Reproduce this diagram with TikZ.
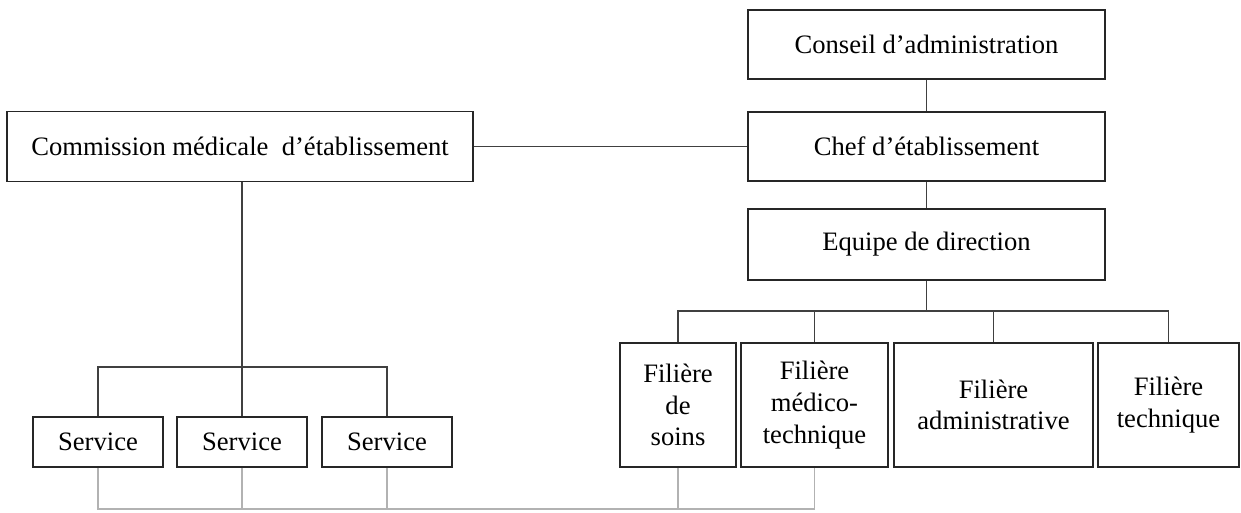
\documentclass[tikz,border=0pt]{standalone}
\usepackage{fontspec}
\setmainfont{Liberation Serif}
\usepackage{tikz}

\begin{document}
\begin{tikzpicture}[x=0.5pt,y=-0.5pt,
	box/.style={shape=rectangle,draw=black!85,line width=0.8pt,inner sep=0pt,align=center,font=\fontsize{13.3}{15.8}\selectfont},
	link/.style={draw=black!75,line width=0.6pt},
	grey/.style={draw=black!30,line width=0.6pt}]
	
	\useasboundingbox (0,0) rectangle (1241,513);
	
	\node[box,minimum width=178.5pt,minimum height=34.5pt] (conseil) at (926.5, 44.5) {Conseil d’administration};
	\node[box,minimum width=178.5pt,minimum height=34.5pt] (chef) at (926.5, 146.5) {Chef d’établissement};
	\node[box,minimum width=178.5pt,minimum height=35.5pt] (equipe) at (926.5, 244.5) {Equipe de direction};
	\node[box,minimum width=233pt,minimum height=35pt] (cme) at (240, 146.5) {Commission médicale\ \ d’établissement};
	
	\node[box,minimum width=65pt,minimum height=25pt] (s1) at (98, 442) {Service};
	\node[box,minimum width=65pt,minimum height=25pt] (s2) at (242, 442) {Service};
	\node[box,minimum width=65pt,minimum height=25pt] (s3) at (387, 442) {Service};
	
	\node[box,minimum width=58pt,minimum height=62pt] (soins) at (678, 405) {Filière\\de\\soins};
	\node[box,minimum width=73.5pt,minimum height=62pt] (medico) at (814.5, 405) {Filière\\médico-\\technique};
	\node[box,minimum width=99.5pt,minimum height=62pt] (admin) at (993.5, 405) {Filière\\administrative};
	\node[box,minimum width=70.5pt,minimum height=62pt] (tech) at (1168.5, 405) {Filière\\technique};
	
	\coordinate (fbus) at (926.5, 311);
	\coordinate (sbus) at (242, 367);
	\coordinate (g1) at (98, 509);
	\coordinate (g2) at (814.5, 509);
	
	\path[link] (conseil) edge (chef);
	\path[link] (chef) edge (equipe);
	\path[link] (cme.east) edge (chef.west);
	\draw[link] (equipe.south) -- (fbus);
	\foreach \f in {soins,medico,admin,tech}
		\draw[link] (fbus) -| (\f.north);
	\draw[link] (s2.north |- cme.south) -- (s2.north);
	\draw[link] (sbus) -| (s1.north);
	\draw[link] (sbus) -| (s3.north);
	
	\draw[grey] (s1.south) -- (g1) -- (g2) -- (medico.south);
	\draw[grey] (s2.south) -- (s2.south |- g1);
	\draw[grey] (s3.south) -- (s3.south |- g1);
	\draw[grey] (soins.south) -- (soins.south |- g1);
	
\end{tikzpicture}
\end{document}
